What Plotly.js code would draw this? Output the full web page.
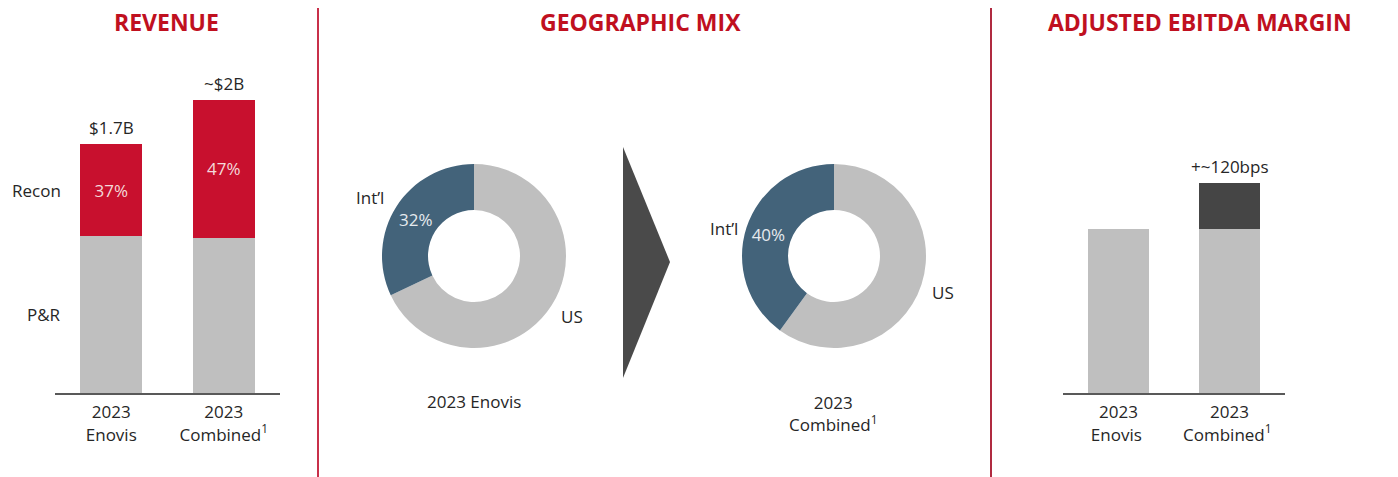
<!DOCTYPE html>
<html>
<head>
<meta charset="utf-8">
<script src="https://cdn.plot.ly/plotly-3.0.1.min.js"></script>
<style>html,body{margin:0;padding:0;background:#fff;}#chart{width:1398px;height:477px;}</style>
</head>
<body>
<div id="chart"></div>
<script>
// ---- data ----
const revCats = ['2023<br>Enovis', '2023<br>Combined<sup>1</sup>'];
const revSegments = ['P&R', 'Recon'];
const revPR = [1.07, 1.06];          // $B
const revRecon = [0.63, 0.94];       // $B
const reconShareText = ['37%', '47%'];
const revTotalText = ['$1.7B', '~$2B'];

const geoLabels = ['US', 'Int’l'];
const geoEnovis = [68, 32];          // %
const geoCombined = [60, 40];        // %
const geoCaptions = ['2023 Enovis', '2023<br>Combined<sup>1</sup>'];

const ebitdaCats = ['2023<br>Enovis ', '2023<br>Combined<sup>1</sup> '];
const ebitdaBase = [1.0, 1.0];       // relative margin index (illustrative bars)
const ebitdaUplift = [0, 0.28];
const ebitdaUpliftText = ['', '+~120bps'];

const panelTitles = ['REVENUE', 'GEOGRAPHIC MIX', 'ADJUSTED EBITDA MARGIN'];

// ---- styling ----
const W = 1398, H = 477;
const FONT = 'Open Sans, Noto Sans, sans-serif';
const RED = '#c8102e', GRAY = '#bfbfbf', DARK = '#454545', SLATE = '#43637a';
const TITLE_RED = '#c0101f', TXT = '#262626';
const px = v => v / W, py = v => 1 - v / H;

const donut = (vals, x0, x1) => ({type: 'pie', labels: geoLabels, values: vals, sort: false,
  direction: 'clockwise', rotation: 0, hole: 0.5, marker: {colors: [GRAY, SLATE]},
  texttemplate: '%{value}%', textposition: ['none', 'inside'], insidetextorientation: 'horizontal',
  textfont: {color: '#e6eaee', size: 17, family: FONT},
  domain: {x: [px(x0), px(x1)], y: [py(348), py(164)]}, hoverinfo: 'skip'});

const traces = [
  {type: 'bar', x: revCats, y: revPR, name: revSegments[0], marker: {color: GRAY},
   width: 0.55, xaxis: 'x', yaxis: 'y', hoverinfo: 'skip'},
  {type: 'bar', x: revCats, y: revRecon, name: revSegments[1], marker: {color: RED},
   width: 0.55, xaxis: 'x', yaxis: 'y', text: reconShareText, textposition: 'inside',
   insidetextanchor: 'middle', textfont: {color: '#f4dada', size: 17, family: FONT}, hoverinfo: 'skip'},
  donut(geoEnovis, 382, 566),
  donut(geoCombined, 742, 926),
  {type: 'bar', x: ebitdaCats, y: ebitdaBase, marker: {color: GRAY}, width: 0.55,
   xaxis: 'x2', yaxis: 'y2', hoverinfo: 'skip'},
  {type: 'bar', x: ebitdaCats, y: ebitdaUplift, marker: {color: DARK}, width: 0.55,
   xaxis: 'x2', yaxis: 'y2', hoverinfo: 'skip'}
];

const annotations = [];
const ann = o => annotations.push(Object.assign({showarrow: false, xanchor: 'center', yanchor: 'middle',
  font: {family: FONT, size: 17, color: TXT}}, o));
const titleX = [166, 640, 1200];
panelTitles.forEach((t, i) => ann({
  text: '<b>' + t + '</b>', xref: 'paper', yref: 'paper', x: px(titleX[i]), y: py(22),
  font: {family: FONT, size: 23, color: TITLE_RED}}));

// revenue totals above bars
revCats.forEach((c, i) => ann({
  text: revTotalText[i], xref: 'x', yref: 'y', x: c, y: revPR[i] + revRecon[i],
  yanchor: 'bottom', yshift: 3}));
// segment labels at left, at middle of Enovis segments
ann({text: revSegments[1], xref: 'paper', yref: 'y', x: px(63),
  y: revPR[0] + revRecon[0] / 2, xanchor: 'right'});
ann({text: revSegments[0], xref: 'paper', yref: 'y', x: px(63),
  y: revPR[0] / 2, xanchor: 'right'});

// donut outside labels: [Int'l x, y, US x, y]
const donutLabelPos = [[370, 197, 572, 316], [724, 228, 943, 292]];
donutLabelPos.forEach(p => {
  ann({text: geoLabels[1], xref: 'paper', yref: 'paper', x: px(p[0]), y: py(p[1])});
  ann({text: geoLabels[0], xref: 'paper', yref: 'paper', x: px(p[2]), y: py(p[3])});
});
ann({text: geoCaptions[0], xref: 'paper', yref: 'paper', x: px(474), y: py(401)});
ann({text: geoCaptions[1], xref: 'paper', yref: 'paper', x: px(834), y: py(413)});

// EBITDA uplift label
ebitdaCats.forEach((c, i) => { if (ebitdaUpliftText[i]) ann({
  text: ebitdaUpliftText[i], xref: 'x2', yref: 'y2', x: c, y: ebitdaBase[i] + ebitdaUplift[i],
  yanchor: 'bottom', yshift: 3}); });

const axisX = {type: 'category', range: [-0.5, 1.5], showline: true, linecolor: '#595959',
  linewidth: 2, showgrid: false, zeroline: false, ticks: '', fixedrange: true,
  ticklabelstandoff: 3, tickfont: {family: FONT, size: 17, color: TXT}};
const axisY = {showgrid: false, zeroline: false, showticklabels: false, showline: false,
  fixedrange: true};

const layout = {
  width: W, height: H, margin: {l: 0, r: 0, t: 0, b: 0},
  paper_bgcolor: '#fff', plot_bgcolor: 'rgba(0,0,0,0)', showlegend: false,
  barmode: 'stack', font: {family: FONT, color: TXT},
  xaxis: Object.assign({}, axisX, {domain: [px(55), px(280)], anchor: 'y'}),
  yaxis: Object.assign({}, axisY, {domain: [py(393), 1], range: [0, 393 / 146.5], anchor: 'x'}),
  xaxis2: Object.assign({}, axisX, {domain: [px(1063), px(1285)], anchor: 'y2'}),
  yaxis2: Object.assign({}, axisY, {domain: [py(393), 1], range: [0, 393 / 164], anchor: 'x2'}),
  annotations: annotations,
  shapes: [
    {type: 'line', xref: 'paper', yref: 'paper', x0: px(318), x1: px(318), y0: py(8), y1: py(477),
     line: {color: '#c8304a', width: 2}},
    {type: 'line', xref: 'paper', yref: 'paper', x0: px(991), x1: px(991), y0: py(8), y1: py(477),
     line: {color: '#b02a40', width: 2}},
    {type: 'path', xref: 'paper', yref: 'paper',
     path: `M ${px(623)} ${py(147)} L ${px(670)} ${py(262)} L ${px(623)} ${py(378)} Z`,
     fillcolor: '#4a4a4a', line: {width: 0}}
  ]
};

Plotly.newPlot('chart', traces, layout, {displayModeBar: false, staticPlot: true});
</script>
</body>
</html>
